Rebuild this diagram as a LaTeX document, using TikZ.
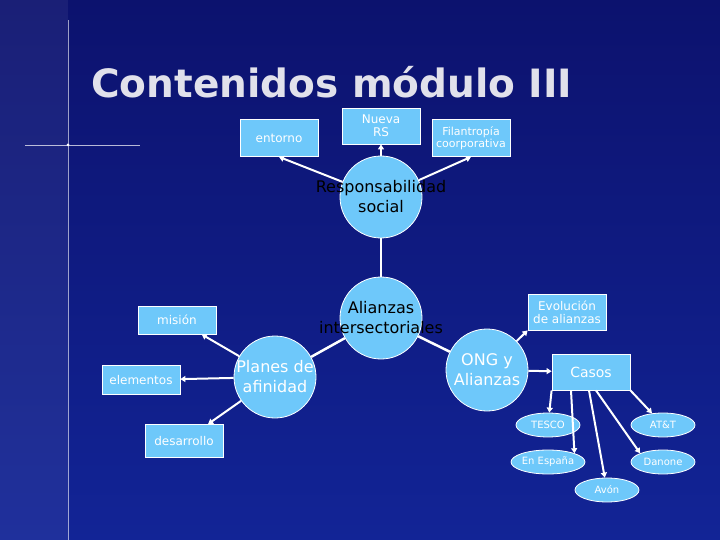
\documentclass[tikz,border=0pt]{standalone}
\usepackage{fontspec}
\setmainfont{DejaVu Sans}
\usetikzlibrary{shapes.geometric,arrows.meta}
\definecolor{bgA}{RGB}{12,18,110}
\definecolor{bgB}{RGB}{18,36,150}
\definecolor{fillc}{RGB}{110,200,250}
\definecolor{titlec}{RGB}{225,225,235}
\begin{document}
\begin{tikzpicture}[x=1pt,y=-1pt,
  bx/.style={draw=white,line width=0.8pt,fill=fillc,text=white,minimum width=78pt,align=center,font=\fontsize{12}{13}\selectfont,inner sep=1pt},
  cir/.style={draw=white,line width=0.8pt,fill=fillc,circle,minimum size=82pt,inner sep=0pt},
  ctx/.style={align=center,font=\fontsize{16}{20}\selectfont,text=white,inner sep=0pt},
  ctxb/.style={ctx,text=black},
  ell/.style={draw=white,line width=0.8pt,fill=fillc,ellipse,minimum width=64pt,minimum height=24pt,inner sep=0pt,text=white,font=\fontsize{10}{11}\selectfont},
  arr/.style={white,line width=2pt,-{Triangle[length=5pt,width=6pt]}},
  ln/.style={white,line width=2.5pt}]
\useasboundingbox (0,0) rectangle (720,540);
\shade[top color=bgA,bottom color=bgB] (0,0) rectangle (720,540);
\fill[white,opacity=0.06] (0,0) rectangle (68,540);
\draw[white,opacity=0.6,line width=0.6pt] (68,20)--(68,540);
\draw[white,opacity=0.7,line width=0.6pt] (25,145)--(140,145);
\fill[white] (68,145) circle (1.5pt);
\node[text=titlec,font=\bfseries\fontsize{39}{42}\selectfont,anchor=west,inner sep=0pt] (t) at (91,82) {Contenidos módulo III};

\node[bx,minimum height=37pt] (ent) at (279,138) {entorno};
\node[bx,minimum height=36pt] (nrs) at (381,126) {Nueva\\RS};
\node[bx,minimum height=37pt,font=\fontsize{11}{12}\selectfont] (fil) at (471,138) {Filantropía\\coorporativa};
\node[cir] (rs) at (381,197) {};
\node[cir] (al) at (381,318) {};
\node[cir] (pl) at (275,377) {};
\node[cir] (ong) at (487,370) {};
\node[bx,minimum height=28pt] (mis) at (177,320) {misión};
\node[bx,minimum height=29pt] (ele) at (141,380) {elementos};
\node[bx,minimum height=33pt] (des) at (184,441) {desarrollo};
\node[bx,minimum height=36pt] (evo) at (567,312) {Evolución\\de alianzas};
\node[bx,minimum height=36pt,font=\fontsize{14}{15}\selectfont] (cas) at (591,372) {Casos};
\node[ell] (tes) at (548,425) {TESCO};
\node[ell] (att) at (663,425) {AT\&T};
\node[ell] (esp) at (548,462) {En España};
\node[ell] (dan) at (663,462) {Danone};
\node[ell] (avo) at (607,490) {Avón};

\draw[arr] (rs) -- (ent.south);
\draw[arr] (rs) -- (nrs);
\draw[arr] (rs) -- (fil.south);
\draw[ln] (rs) -- (al);
\draw[ln] (al) -- (pl);
\draw[ln] (al) -- (ong);
\draw[arr] (pl) -- (mis);
\draw[arr] (pl) -- (ele);
\draw[arr] (pl) -- (des);
\draw[arr] (ong) -- (evo.south west);
\draw[arr] (ong) -- (cas);
\draw[arr] (cas.south west) -- (tes);
\draw[arr] (cas.south) ++(-20,0) -- (esp.north east);
\draw[arr] (cas.south) ++(-2,0) -- (avo);
\draw[arr] (cas.south) ++(5,0) -- (dan.north west);
\draw[arr] (cas.south east) -- (att);

\node[ctxb] (rst) at (rs) {Responsabilidad\\social};
\node[ctxb] (alt) at (al) {Alianzas\\intersectoriales};
\node[ctx] (plt) at (pl) {Planes de\\afinidad};
\node[ctx] (ongt) at (ong) {ONG y\\Alianzas};
\end{tikzpicture}
\end{document}
